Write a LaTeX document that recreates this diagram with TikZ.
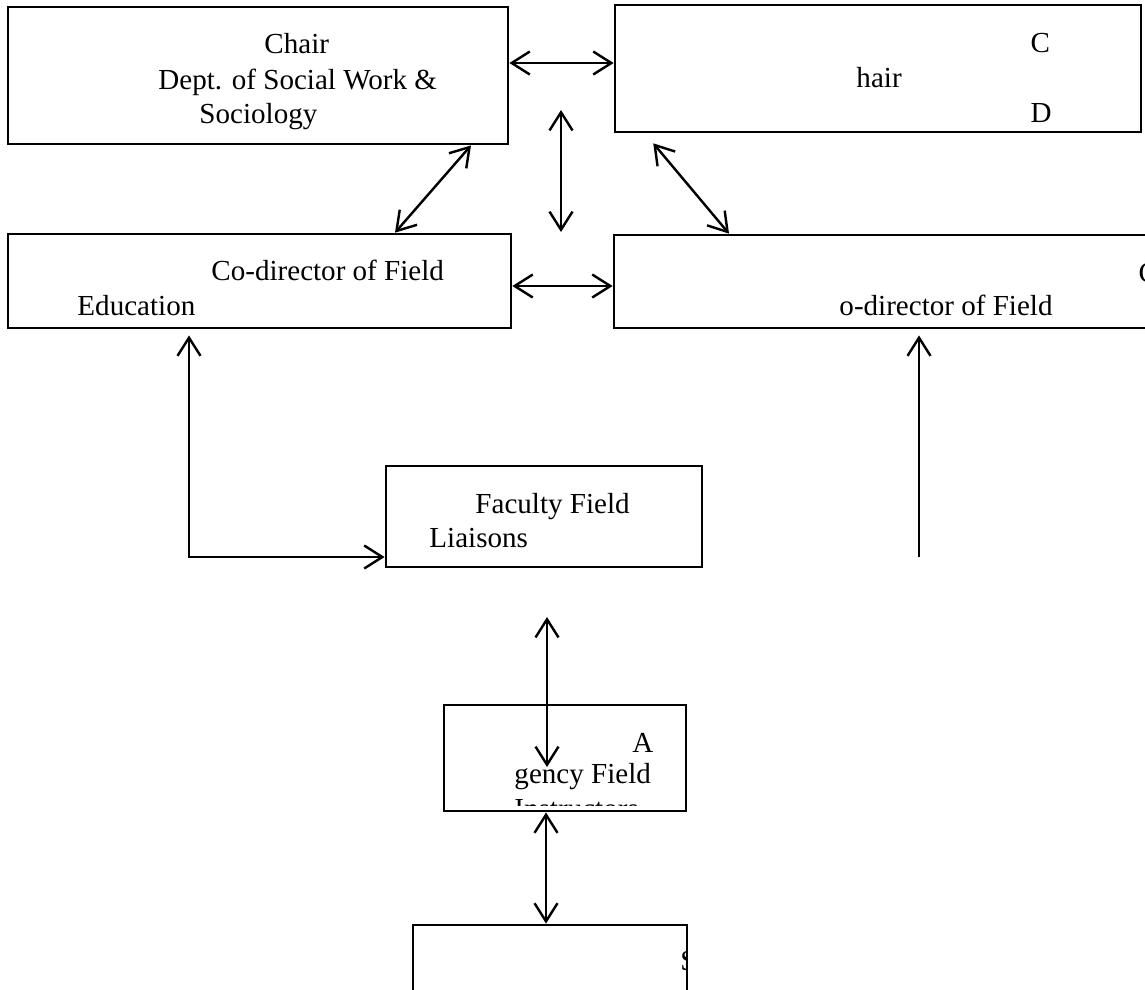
\documentclass[tikz,border=0pt]{standalone}
\usepackage{fontspec}
\setmainfont{Liberation Serif}
\usetikzlibrary{arrows.meta}

\begin{document}
\begin{tikzpicture}[x=0.413pt,y=-0.413pt,font=\fontsize{12pt}{14pt}\selectfont]
  \tikzstyle{box}=[draw, rectangle, line width=1.15pt, inner sep=0pt]
  \tikzstyle{txt}=[anchor=base west, inner sep=0pt]
  \tikzstyle{link}=[line width=1pt,
{Straight Barb[length=7.5pt,width=9.5pt]}-{Straight Barb[length=7.5pt,width=9.5pt]}]
  \tikzstyle{uplink}=[line width=1pt, -{Straight Barb[length=7.5pt,width=9.5pt]}]

  \useasboundingbox (0,0) rectangle (1145,989);

  % boxes
  \node[box, minimum width=206.5pt, minimum height=56.6pt] (Chair_1) at (258,75.5) {};
  \node[box, minimum width=217.2pt, minimum height=52.5pt] (Chair_2) at (878,68.5) {};
  \node[box, minimum width=207.7pt, minimum height=38.8pt] (Codir_1) at (259.5,281) {};
  \node[box, minimum width=229.6pt, minimum height=38.4pt] (Codir_2) at (892,281.5) {};
  \node[box, minimum width=130.5pt, minimum height=41.7pt] (Liaisons) at (544,516.5) {};
  \node[box, minimum width=99.9pt, minimum height=43.8pt] (Agency) at (565,758) {};
  \node[box, minimum width=113.2pt, minimum height=35.1pt] (Students) at (550,967.5) {};

  % texts
  \node[txt] (T_chair) at (264,53) {Chair};
  \node[txt] (T_dept) at (158,89) {Dept. of Social Work \&};
  \node[txt] (T_soc) at (199,123) {Sociology};
  \node[txt] (T_c1) at (1030,52) {C};
  \node[txt] (T_hair) at (856,87) {hair};
  \node[txt] (T_d) at (1030,122) {D};
  \node[txt] (T_codir) at (211,280) {Co-director of Field};
  \node[txt] (T_edu) at (77,315) {Education};
  \node[txt] (T_c2) at (1138,282) {C};
  \node[txt] (T_odir) at (839,315) {o-director of Field};
  \node[txt] (T_fac) at (475,513) {Faculty Field};
  \node[txt] (T_lia) at (429,547) {Liaisons};
  \node[txt] (T_a) at (632,752) {A};
  \node[txt] (T_gency) at (514,783) {gency Field};
  \begin{scope}
    \clip (Agency.north west) rectangle (Agency.east |- 0,805);
    \node[txt] (T_instr) at (514,818) {Instructors};
  \end{scope}
  \begin{scope}
    \clip (Students.north west) rectangle (686,989);
    \node[txt] (T_stud) at (680,970) {Students};
  \end{scope}

  % connectors
  \coordinate (M_top) at (561,110);
  \coordinate (M_bot) at (561,232);
  \coordinate (AG_top) at (547,617);
  \coordinate (AG_bot) at (547,767);
  \coordinate (R_foot) at (919,557);

  \draw[link] (Chair_1.east |- 0,63) -- (Chair_2.west |- 0,63);
  \draw[link] (M_top) -- (M_bot);
  \draw[link] (Chair_1.south -| 471,0) -- (Codir_1.north -| 395,0);
  \draw[link, shorten <=5.3pt] (Chair_2.south -| 645,0) -- (Codir_2.north -| 729,0);
  \draw[link] (Codir_1.east |- 0,286) -- (Codir_2.west |- 0,286);
  \draw[link, shorten <=2.5pt] (Codir_1.south -| 189,0) |- (Liaisons.west |- 0,557);
  \draw[uplink, shorten >=2.5pt] (R_foot) -- (Codir_2.south -| 919,0);
  \draw[link] (AG_top) -- (AG_bot);
  \draw[link] (Agency.south -| 546,0) -- (Students.north -| 546,0);
\end{tikzpicture}
\end{document}
